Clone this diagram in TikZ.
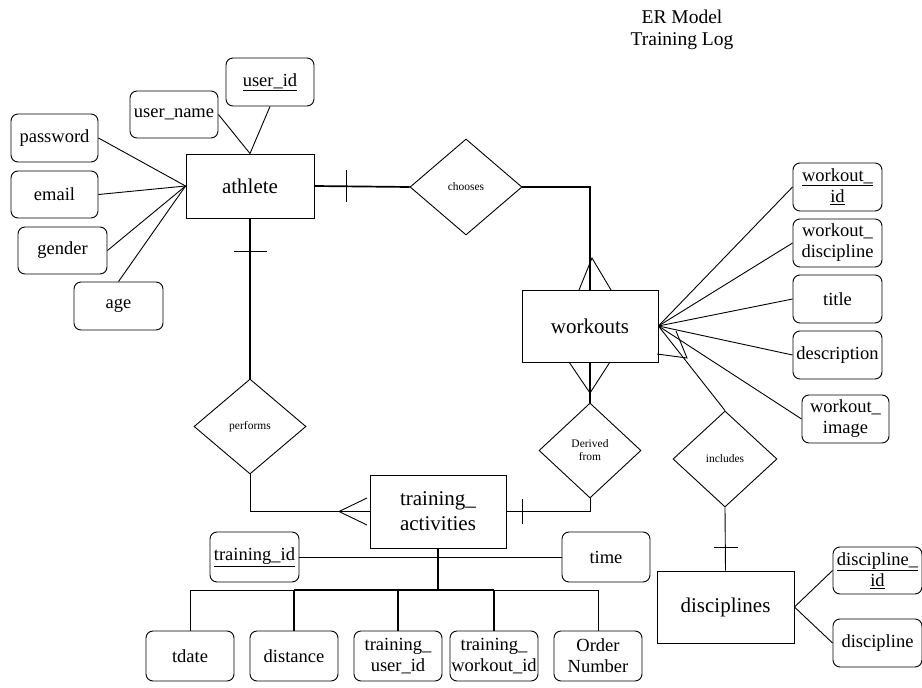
\documentclass[tikz,border=0pt]{standalone}
\usepackage{fontspec}
\setmainfont{Liberation Serif}
\usetikzlibrary{shapes.geometric,calc}
\begin{document}
\begin{tikzpicture}[x=1pt,y=-1pt,
  every path/.style={line width=0.9pt},
  heavy/.style={line width=1.7pt},
  entity/.style={draw,rectangle,inner sep=0pt,align=center,font=\fontsize{21}{25}\selectfont},
  attr/.style={draw,rectangle,rounded corners=7pt,inner sep=0pt,align=center,font=\fontsize{18.5}{21}\selectfont},
  rel/.style={draw,diamond,inner sep=0pt,align=center,font=\fontsize{11.5}{13}\selectfont},
  ttl/.style={inner sep=0pt,align=center,font=\fontsize{19.5}{22}\selectfont}]
\path[use as bounding box,fill=white] (0,0) rectangle (922,688);

% title
\node[ttl] (title) at (682,30) {ER Model\\Training Log};

% athlete
\node[entity,minimum width=128pt,minimum height=64pt] (athlete) at (250,186) {athlete};
\node[attr,minimum width=88pt,minimum height=48pt] (userid) at (270,82) {\underline{user\_id}};
\node[attr,minimum width=88pt,minimum height=47pt] (username) at (174,114.5) {user\_name};
\node[attr,minimum width=87pt,minimum height=48pt] (password) at (54.5,138) {password};
\node[attr,minimum width=87pt,minimum height=47pt] (email) at (54.5,194.5) {email};
\node[attr,minimum width=89pt,minimum height=47pt] (gender) at (62.5,250.5) {gender};
\node[attr,minimum width=89pt,minimum height=48pt] (age) at (118.5,306) {age};

% relationships
\node[rel,minimum width=112pt,minimum height=96pt] (chooses) at (466,187) {chooses};
\node[rel,minimum width=112pt,minimum height=95pt] (performs) at (250,426.5) {performs};
\node[rel,minimum width=102pt,minimum height=95pt] (derived) at (590,450.5) {Derived\\from};
\node[rel,minimum width=104pt,minimum height=96pt] (includes) at (725,459) {includes};

% workouts
\node[entity,minimum width=136pt,minimum height=72pt] (workouts) at (590,326) {workouts};
\node[attr,minimum width=89pt,minimum height=48pt] (wid) at (837.5,187) {\underline{workout\_}\\\underline{id}};
\node[attr,minimum width=89pt,minimum height=48pt] (wdisc) at (837.5,243) {workout\_\\discipline};
\node[attr,minimum width=89pt,minimum height=48pt] (wtitle) at (837.5,299) {title};
\node[attr,minimum width=89pt,minimum height=48pt] (wdesc) at (837.5,355) {description};
\node[attr,minimum width=87pt,minimum height=48pt] (wimg) at (845.5,419) {workout\_\\image};

% training activities
\node[entity,minimum width=136pt,minimum height=73pt] (training) at (438,511.5) {training\_\\activities};
\node[attr,minimum width=89pt,minimum height=50pt] (tid) at (254.5,557) {\underline{training\_id}};
\node[attr,minimum width=88pt,minimum height=50pt] (ttime) at (606,557) {time};
\node[attr,minimum width=88pt,minimum height=50pt] (tdate) at (190,656) {tdate};
\node[attr,minimum width=88pt,minimum height=50pt] (tdist) at (294,656) {distance};
\node[attr,minimum width=88pt,minimum height=50pt] (tuser) at (398,656) {training\_\\user\_id};
\node[attr,minimum width=88pt,minimum height=50pt] (twork) at (494,656) {training\_\\workout\_id};
\node[attr,minimum width=88pt,minimum height=50pt] (torder) at (598,656) {Order\\Number};

% disciplines
\node[entity,minimum width=137pt,minimum height=72pt] (disc) at (725.5,607) {disciplines};
\node[attr,minimum width=89pt,minimum height=47pt] (discid) at (877.5,570.5) {\underline{discipline\_}\\\underline{id}};
\node[attr,minimum width=89pt,minimum height=48pt] (discname) at (877.5,643) {discipline};

% athlete attributes
\draw (password.east) -- (athlete.west);
\draw (email.east) -- (athlete.west);
\draw (gender.east) -- (athlete.west);
\draw (age.north) -- (athlete.west);
\draw (username.east) -- (athlete.north);
\draw (userid.south) -- (athlete.north);

% athlete - chooses - workouts
\draw[heavy] (athlete.east) -- (chooses.west);
\coordinate (tk1a) at (346,170); \coordinate (tk1b) at (346,202);
\draw (tk1a) -- (tk1b);
\draw[heavy] (chooses.east) -| (workouts.north);
\coordinate (cf1a) at (592,258); \coordinate (cf1l) at (579,290); \coordinate (cf1r) at (611,290);
\draw (cf1l) -- (cf1a) -- (cf1r);

% workouts attributes
\draw (workouts.east) -- (wid.west);
\draw (workouts.east) -- (wdisc.west);
\draw (workouts.east) -- (wtitle.west);
\draw (workouts.east) -- (wdesc.west);
\draw (workouts.east) -- (wimg.west);

% workouts - includes - disciplines
\draw (workouts.east) -- (includes.north);
\coordinate (cf4a) at (687,358); \coordinate (cf4l) at (657,354); \coordinate (cf4r) at (676,331);
\draw (cf4l) -- (cf4a) -- (cf4r);
\draw (includes.south) -- (disc.north);
\coordinate (tk4a) at (714,547); \coordinate (tk4b) at (738,547);
\draw (tk4a) -- (tk4b);
\draw (disc.east) -- (discid.west);
\draw (disc.east) -- (discname.west);

% workouts - derived - training
\draw[heavy] (workouts.south) -- (derived.north);
\coordinate (cf2a) at (590,393); \coordinate (cf2l) at (569,362); \coordinate (cf2r) at (610,362);
\draw (cf2l) -- (cf2a) -- (cf2r);
\draw (derived.south) |- (training.east);
\coordinate (tk3a) at (522,499); \coordinate (tk3b) at (522,524);
\draw (tk3a) -- (tk3b);

% athlete - performs - training
\draw[heavy] (athlete.south) -- (performs.north);
\coordinate (tk2a) at (234,251); \coordinate (tk2b) at (267,251);
\draw (tk2a) -- (tk2b);
\draw (performs.south) |- (training.west);
\coordinate (cf3a) at (339,511.5); \coordinate (cf3u) at (367,498); \coordinate (cf3d) at (367,525);
\draw (cf3u) -- (cf3a) -- (cf3d);

% training attributes
\draw (tid.east) -- (ttime.west);
\coordinate (bus) at (438,590);
\coordinate (busl) at (190,590);
\coordinate (busr) at (598,590);
\coordinate (busdl) at (294,590);
\coordinate (busm) at (398,590);
\coordinate (busdr) at (494,590);
\draw[heavy] (training.south) -- (bus);
\draw[heavy] (busdl) -- (busdr);
\draw (busl) -- (busdl);
\draw (busdr) -- (busr);
\draw (busl) -- (tdate.north);
\draw[heavy] (busdl) -- (tdist.north);
\draw[heavy] (busm) -- (tuser.north);
\draw[heavy] (busdr) -- (twork.north);
\draw (busr) -- (torder.north);
\end{tikzpicture}
\end{document}
